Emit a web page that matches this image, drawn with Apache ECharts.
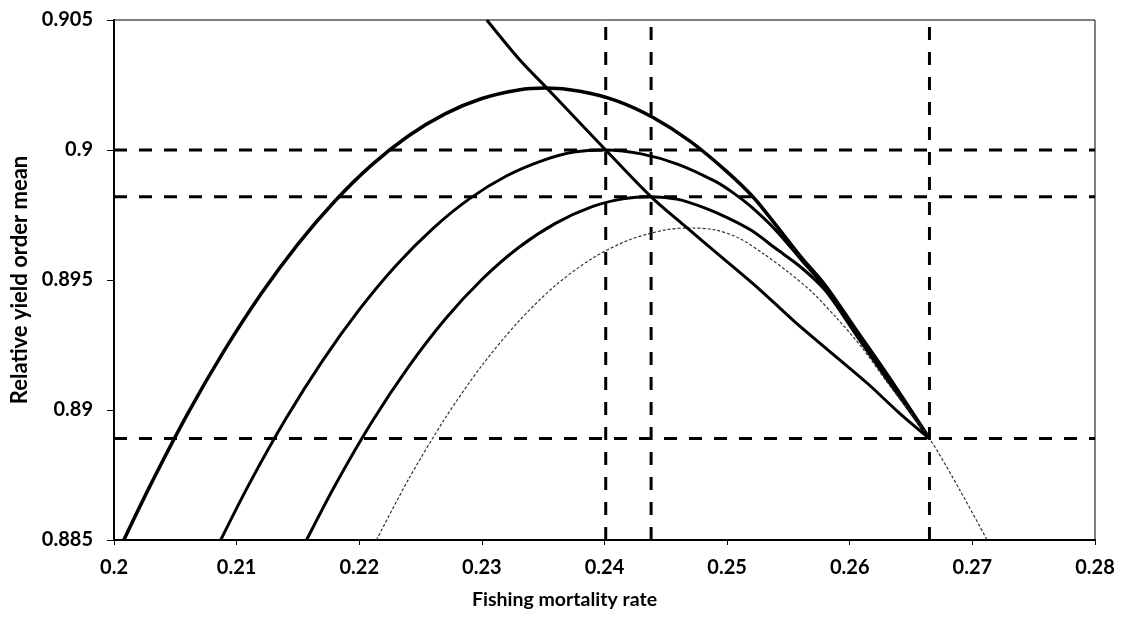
<!DOCTYPE html>
<html>
<head>
<meta charset="utf-8">
<script src="https://cdn.jsdelivr.net/npm/echarts@6/dist/echarts.min.js"></script>
<style>html,body{margin:0;padding:0;background:#fff}#c{width:1122px;height:619px}</style>
</head>
<body>
<div id="c"></div>
<script>
// Curve 1 (highest peak)
const curve1 = [[0.2008,0.8850],[0.203,0.88714],[0.206,0.88985],[0.209,0.89229],[0.212,0.89447],[0.215,0.89638],[0.218,0.89803],[0.221,0.89942],[0.224,0.90054],[0.227,0.90139],[0.230,0.90198],[0.233,0.90231],[0.2352,0.90238],[0.238,0.90226],[0.241,0.90189],[0.244,0.90124],[0.247,0.90033],[0.250,0.89916],[0.2521,0.8982],[0.254,0.8971],[0.256,0.8959],[0.258,0.8948],[0.2605,0.8931],[0.263,0.8914],[0.2665,0.8889]];
// Curve 2
const curve2 = [[0.2087,0.8850],[0.211,0.88713],[0.214,0.88965],[0.217,0.89189],[0.220,0.89386],[0.223,0.89556],[0.226,0.89698],[0.229,0.89813],[0.232,0.8990],[0.235,0.8996],[0.2375,0.89992],[0.2401,0.9000],[0.243,0.89985],[0.246,0.89945],[0.249,0.8988],[0.2505,0.89835],[0.252,0.8978],[0.254,0.8969],[0.256,0.8958],[0.258,0.8947],[0.2605,0.8930],[0.263,0.8913],[0.2665,0.8889]];
// Curve 3
const curve3 = [[0.2157,0.8850],[0.218,0.88708],[0.221,0.88952],[0.224,0.89165],[0.227,0.89349],[0.230,0.89502],[0.233,0.89625],[0.236,0.89718],[0.239,0.89782],[0.2415,0.89812],[0.2438,0.8982],[0.246,0.8981],[0.248,0.8978],[0.250,0.8974],[0.252,0.8969],[0.254,0.8962],[0.256,0.8955],[0.258,0.8946],[0.2605,0.8929],[0.263,0.8912],[0.2665,0.8889]];
// Curve 4 (thin, lowest peak)
const curve4 = [[0.2214,0.8850],[0.224,0.88732],[0.227,0.88968],[0.230,0.89171],[0.233,0.89341],[0.236,0.89479],[0.239,0.89583],[0.242,0.89654],[0.245,0.89693],[0.247,0.8970],[0.249,0.89693],[0.251,0.8966],[0.253,0.8960],[0.255,0.8953],[0.257,0.8945],[0.259,0.8935],[0.261,0.8924],[0.263,0.8911],[0.2665,0.8889],[0.269,0.8869],[0.2712,0.8850]];
// Declining line through the peaks
const peakLine = [[0.2304,0.9050],[0.2331,0.90346],[0.2353,0.90238],[0.2380,0.90104],[0.2401,0.9000],[0.2438,0.8982],[0.2465,0.8971],[0.2495,0.8959],[0.2525,0.8947],[0.2555,0.8934],[0.2585,0.8922],[0.2615,0.8910],[0.2640,0.8899],[0.2665,0.8889]];
// Reference levels (dashed)
const hLevels = [0.9, 0.8982, 0.8889];
const vLevels = [0.2401, 0.2438, 0.2665];
const xMin = 0.2, xMax = 0.28, xStep = 0.01;
const yMin = 0.885, yMax = 0.905, yStep = 0.005;

const chart = echarts.init(document.getElementById('c'), null, {renderer: 'canvas'});
const FONT = 'Lato, "Open Sans", sans-serif';
const series = [];
const dashStyle = {color: '#000', width: 3, type: [13, 12]};
hLevels.forEach(v => series.push({type: 'line', data: [[xMin, v], [xMax, v]], symbol: 'none', lineStyle: dashStyle, silent: true, z: 1}));
vLevels.forEach(v => series.push({type: 'line', data: [[v, yMin], [v, yMax]], symbol: 'none', lineStyle: dashStyle, silent: true, z: 1}));
series.push({type: 'line', data: curve1, symbol: 'none', smooth: 0.3, lineStyle: {color: '#000', width: 3.5}, z: 3});
series.push({type: 'line', data: curve2, symbol: 'none', smooth: 0.3, lineStyle: {color: '#000', width: 3}, z: 3});
series.push({type: 'line', data: curve3, symbol: 'none', smooth: 0.3, lineStyle: {color: '#000', width: 3}, z: 3});
series.push({type: 'line', data: curve4, symbol: 'none', smooth: 0.3, lineStyle: {color: '#333', width: 1.2, type: [3, 2]}, z: 3});
series.push({type: 'line', data: peakLine, symbol: 'none', smooth: 0.3, lineStyle: {color: '#000', width: 3}, z: 4});

chart.setOption({
  animation: false,
  backgroundColor: '#fff',
  title: {
    text: 'Fishing mortality rate', left: 467, top: 585,
    textStyle: {fontFamily: FONT, fontWeight: 'bold', fontSize: 19.5, color: '#000'}
  },
  grid: {left: 114, right: 27, top: 20, bottom: 79, show: true, borderColor: '#000', borderWidth: 1,
         containLabel: false, outerBoundsMode: 'none'},
  xAxis: {
    type: 'value', min: xMin, max: xMax, interval: xStep,
    axisLine: {show: true, onZero: false, lineStyle: {color: '#000', width: 2}},
    axisTick: {show: true, length: 5, lineStyle: {color: '#000', width: 1}},
    splitLine: {show: false},
    axisLabel: {margin: 18, color: '#000', fontFamily: FONT, fontWeight: 'bold', fontSize: 20}
  },
  yAxis: {
    type: 'value', min: yMin, max: yMax, interval: yStep,
    name: 'Relative yield order mean', nameLocation: 'middle', nameRotate: 90, nameGap: 83,
    nameTextStyle: {fontFamily: FONT, fontWeight: 'bold', fontSize: 22, color: '#000'},
    axisLine: {show: true, onZero: false, lineStyle: {color: '#000', width: 2}},
    axisTick: {show: true, length: 7, lineStyle: {color: '#000', width: 1}},
    splitLine: {show: false},
    axisLabel: {margin: 21, color: '#000', fontFamily: FONT, fontWeight: 'bold', fontSize: 20}
  },
  series: series
});
</script>
</body>
</html>
